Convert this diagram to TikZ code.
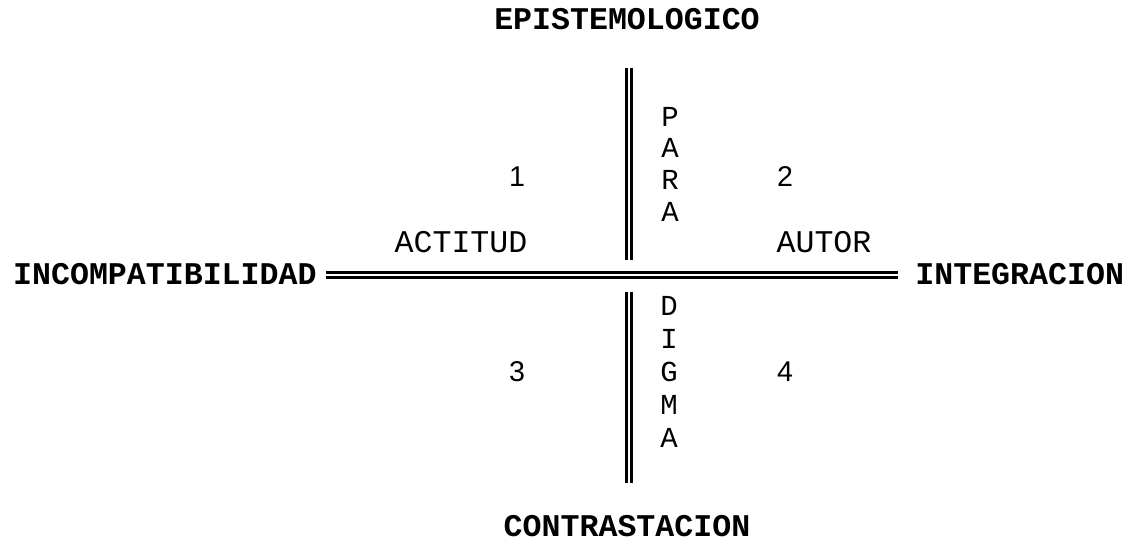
\documentclass[tikz,border=0pt]{standalone}
\usepackage{fontspec}
\setmonofont{Liberation Mono}
\newfontfamily\digitfont{Liberation Sans}
\tikzset{
  eje/.style={line width=1.6pt, double, double distance=0.9pt},
  polo/.style={inner sep=0pt, font=\ttfamily\bfseries\fontsize{15.8}{18}\selectfont},
  rotulo/.style={inner sep=0pt, font=\ttfamily\fontsize{15.8}{18}\selectfont},
  letra/.style={inner sep=0pt, font=\ttfamily\fontsize{14.5}{17}\selectfont},
  cuadrante/.style={inner sep=0pt, font=\digitfont\fontsize{14.3}{16}\selectfont}
}
\begin{document}
\begin{tikzpicture}[x=0.5pt,y=-0.5pt]
	\useasboundingbox (0,0) rectangle (1132,544);
	% Polos
	\node[polo] (epist) at (627,19) {EPISTEMOLOGICO};
	\node[polo] (contr) at (627,526) {CONTRASTACION};
	\node[polo, anchor=east] (incomp) at (317,274) {INCOMPATIBILIDAD};
	\node[polo, anchor=west] (integr) at (915,274) {INTEGRACION};
	% Ejes
	\coordinate (hizq) at (326,275);
	\coordinate (hder) at (898,275);
	\coordinate (vsup) at (629,68);
	\coordinate (vsupfin) at (629,260);
	\coordinate (vinf) at (629,292);
	\coordinate (vinffin) at (629,483);
	\draw[eje] (hizq) -- (hder);
	\draw[eje] (vsup) -- (vsupfin);
	\draw[eje] (vinf) -- (vinffin);
	% Cuadrantes
	\node[cuadrante] (c1) at (517,177) {1};
	\node[cuadrante] (c2) at (785,177) {2};
	\node[cuadrante] (c3) at (517,372) {3};
	\node[cuadrante] (c4) at (785,372) {4};
	\node[rotulo] (actitud) at (461,242) {ACTITUD};
	\node[rotulo] (autor) at (824,242) {AUTOR};
	% PARA-DIGMA
	\node[letra] (p1) at (670,117) {P};
	\node[letra] (p2) at (670,148) {A};
	\node[letra] (p3) at (670,180) {R};
	\node[letra] (p4) at (670,212) {A};
	\node[letra] (d1) at (669,306) {D};
	\node[letra] (d2) at (669,339) {I};
	\node[letra] (d3) at (669,372) {G};
	\node[letra] (d4) at (669,405) {M};
	\node[letra] (d5) at (669,438) {A};
\end{tikzpicture}
\end{document}
